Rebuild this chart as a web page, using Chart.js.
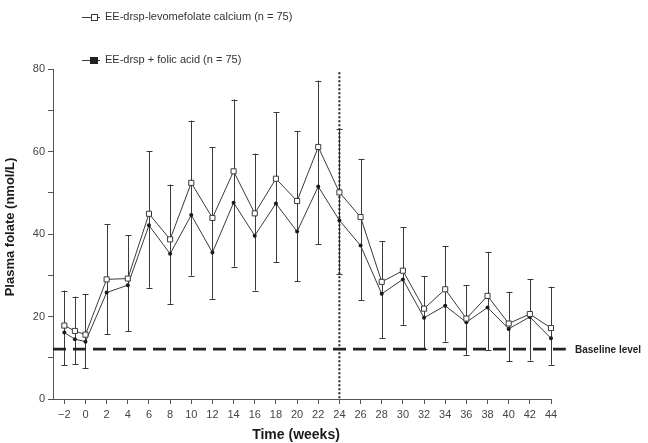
<!DOCTYPE html>
<html>
<head>
<meta charset="utf-8">
<script src="https://cdn.jsdelivr.net/npm/chart.js@4"></script>
<style>
  html, body { margin: 0; padding: 0; background: #fff; }
  #chart { display: block; }
</style>
</head>
<body>
<canvas id="chart" width="648" height="443"></canvas>
<script>
// values
const weeks = [-2, -1, 0, 2, 4, 6, 8, 10, 12, 14, 16, 18, 20, 22, 24, 26, 28, 30, 32, 34, 36, 38, 40, 42, 44];
const levomefolate = [17.8, 16.5, 15.6, 29.0, 29.2, 44.9, 38.7, 52.4, 43.9, 55.2, 45.0, 53.4, 48.0, 61.1, 50.1, 44.1, 28.4, 31.1, 21.9, 26.6, 19.5, 25.0, 18.3, 20.6, 17.2];
const folicAcid = [16.1, 14.5, 13.9, 25.8, 27.6, 42.1, 35.2, 44.6, 35.5, 47.6, 39.6, 47.4, 40.6, 51.5, 43.3, 37.2, 25.5, 29.0, 19.7, 22.6, 18.6, 22.2, 17.0, 19.9, 14.7];
const errUpper = [26.3, 24.8, 25.4, 42.4, 39.7, 60.1, 52.0, 67.5, 61.0, 72.6, 59.5, 69.5, 65.0, 77.2, 65.5, 58.2, 38.2, 41.6, 29.8, 37.0, 27.6, 35.7, 26.0, 29.1, 27.2];
const errLower = [8.2, 8.4, 7.4, 15.7, 16.4, 27.0, 23.1, 29.9, 24.3, 32.1, 26.3, 33.2, 28.5, 37.5, 30.2, 23.9, 14.8, 18.0, 12.2, 13.9, 10.7, 11.9, 9.2, 9.3, 8.3];
const xTicks = [-2, 0, 2, 4, 6, 8, 10, 12, 14, 16, 18, 20, 22, 24, 26, 28, 30, 32, 34, 36, 38, 40, 42, 44];
const yTicks = [0, 10, 20, 30, 40, 50, 60, 70, 80];
const yLabels = [0, 20, 40, 60, 80];
const baseline = 12.1;
const switchWeek = 24;
const seriesNames = ['EE-drsp-levomefolate calcium (n = 75)', 'EE-drsp + folic acid (n = 75)'];

const ink = '#3a3a3a';

// error bars, baseline, dotted line, legend and axis titles
const extras = {
  id: 'extras',
  beforeDatasetsDraw(chart) {
    const ctx = chart.ctx;
    const x = chart.scales.x, y = chart.scales.y;
    ctx.save();
    ctx.strokeStyle = ink;
    ctx.lineWidth = 1;
    for (let i = 0; i < weeks.length; i++) {
      const px = Math.round(x.getPixelForValue(weeks[i])) + 0.5;
      const top = y.getPixelForValue(errUpper[i]);
      const bot = y.getPixelForValue(errLower[i]);
      ctx.beginPath();
      ctx.moveTo(px, top); ctx.lineTo(px, bot);
      ctx.moveTo(px - 3, Math.round(top) + 0.5); ctx.lineTo(px + 3, Math.round(top) + 0.5);
      ctx.moveTo(px - 3, Math.round(bot) + 0.5); ctx.lineTo(px + 3, Math.round(bot) + 0.5);
      ctx.stroke();
    }
    // baseline level
    const by = y.getPixelForValue(baseline);
    ctx.strokeStyle = '#222';
    ctx.lineWidth = 2.6;
    ctx.setLineDash([13, 7]);
    ctx.beginPath();
    ctx.moveTo(chart.chartArea.left, by);
    ctx.lineTo(x.getPixelForValue(45.4), by);
    ctx.stroke();
    // week 24 dotted line
    const dx = x.getPixelForValue(switchWeek);
    ctx.lineWidth = 2;
    ctx.setLineDash([2, 2]);
    ctx.beginPath();
    ctx.moveTo(dx, y.getPixelForValue(79.2));
    ctx.lineTo(dx, y.getPixelForValue(0));
    ctx.stroke();
    ctx.restore();
  },
  afterDraw(chart) {
    const ctx = chart.ctx;
    const y = chart.scales.y;
    ctx.save();
    ctx.fillStyle = '#222';
    ctx.font = 'bold 10px "Liberation Sans", Arial, sans-serif';
    ctx.textBaseline = 'middle';
    ctx.textAlign = 'left';
    ctx.fillText('Baseline level', 575, y.getPixelForValue(baseline) + 1);

    // legend
    ctx.font = '11px "Liberation Sans", Arial, sans-serif';
    ctx.fillStyle = '#333';
    ctx.strokeStyle = ink;
    ctx.lineWidth = 1;
    const rows = [17, 60];
    rows.forEach((ly, i) => {
      ctx.beginPath();
      ctx.moveTo(82, ly + 0.5); ctx.lineTo(100, ly + 0.5);
      ctx.stroke();
      if (i === 0) {
        ctx.fillStyle = '#fff';
        ctx.fillRect(91.5, ly - 2.5, 6, 6);
        ctx.strokeRect(91.5, ly - 2.5, 6, 6);
      } else {
        ctx.fillStyle = '#222';
        ctx.fillRect(90, ly - 3, 8, 7);
      }
      ctx.fillStyle = '#333';
      ctx.fillText(seriesNames[i], 105, ly);
    });

    // axis titles
    ctx.fillStyle = '#1a1a1a';
    ctx.textAlign = 'center';
    ctx.font = 'bold 14px "Liberation Sans", Arial, sans-serif';
    ctx.fillText('Time (weeks)', 296, 435);
    ctx.translate(10, 227);
    ctx.rotate(-Math.PI / 2);
    ctx.font = 'bold 13px "Liberation Sans", Arial, sans-serif';
    ctx.fillText('Plasma folate (nmol/L)', 0, 0);
    ctx.restore();
  }
};

const ctx = document.getElementById('chart').getContext('2d');
new Chart(ctx, {
  type: 'line',
  data: {
    datasets: [
      {
        label: seriesNames[0],
        data: weeks.map((w, i) => ({ x: w, y: levomefolate[i] })),
        borderColor: ink,
        borderWidth: 1,
        pointStyle: 'rect',
        pointRadius: 3.6,
        pointBackgroundColor: '#fff',
        pointBorderColor: ink,
        pointBorderWidth: 1,
        tension: 0,
        clip: false
      },
      {
        label: seriesNames[1],
        data: weeks.map((w, i) => ({ x: w, y: folicAcid[i] })),
        borderColor: ink,
        borderWidth: 1,
        pointStyle: 'circle',
        pointRadius: 2,
        pointBackgroundColor: '#1a1a1a',
        pointBorderColor: '#1a1a1a',
        pointBorderWidth: 0,
        tension: 0,
        clip: false
      }
    ]
  },
  options: {
    responsive: false,
    animation: false,
    layout: { padding: { top: 69, right: 97, left: 0, bottom: 0 } },
    plugins: {
      legend: { display: false },
      tooltip: { enabled: false }
    },
    scales: {
      x: {
        type: 'linear',
        min: -3.07,
        max: 44,
        afterFit(scale) { scale.height = 44; },
        afterBuildTicks(scale) { scale.ticks = xTicks.map(v => ({ value: v })); },
        ticks: {
          autoSkip: false,
          maxRotation: 0,
          padding: 4,
          color: '#444',
          font: { family: '"Liberation Sans", Arial, sans-serif', size: 11 },
          callback: v => (v < 0 ? '\u2212' + Math.abs(v) : String(v))
        },
        grid: { drawOnChartArea: false, drawTicks: true, tickLength: 5, color: '#555' },
        border: { display: true, color: '#555', width: 1 }
      },
      y: {
        min: 0,
        max: 80,
        afterFit(scale) { scale.width = 53; },
        afterBuildTicks(scale) { scale.ticks = yTicks.map(v => ({ value: v })); },
        ticks: {
          autoSkip: false,
          padding: 3,
          color: '#444',
          font: { family: '"Liberation Sans", Arial, sans-serif', size: 11 },
          callback: v => (yLabels.includes(v) ? String(v) : '')
        },
        grid: { drawOnChartArea: false, drawTicks: true, tickLength: 5, color: '#555' },
        border: { display: true, color: '#555', width: 1 }
      }
    }
  },
  plugins: [extras]
});
</script>
</body>
</html>
